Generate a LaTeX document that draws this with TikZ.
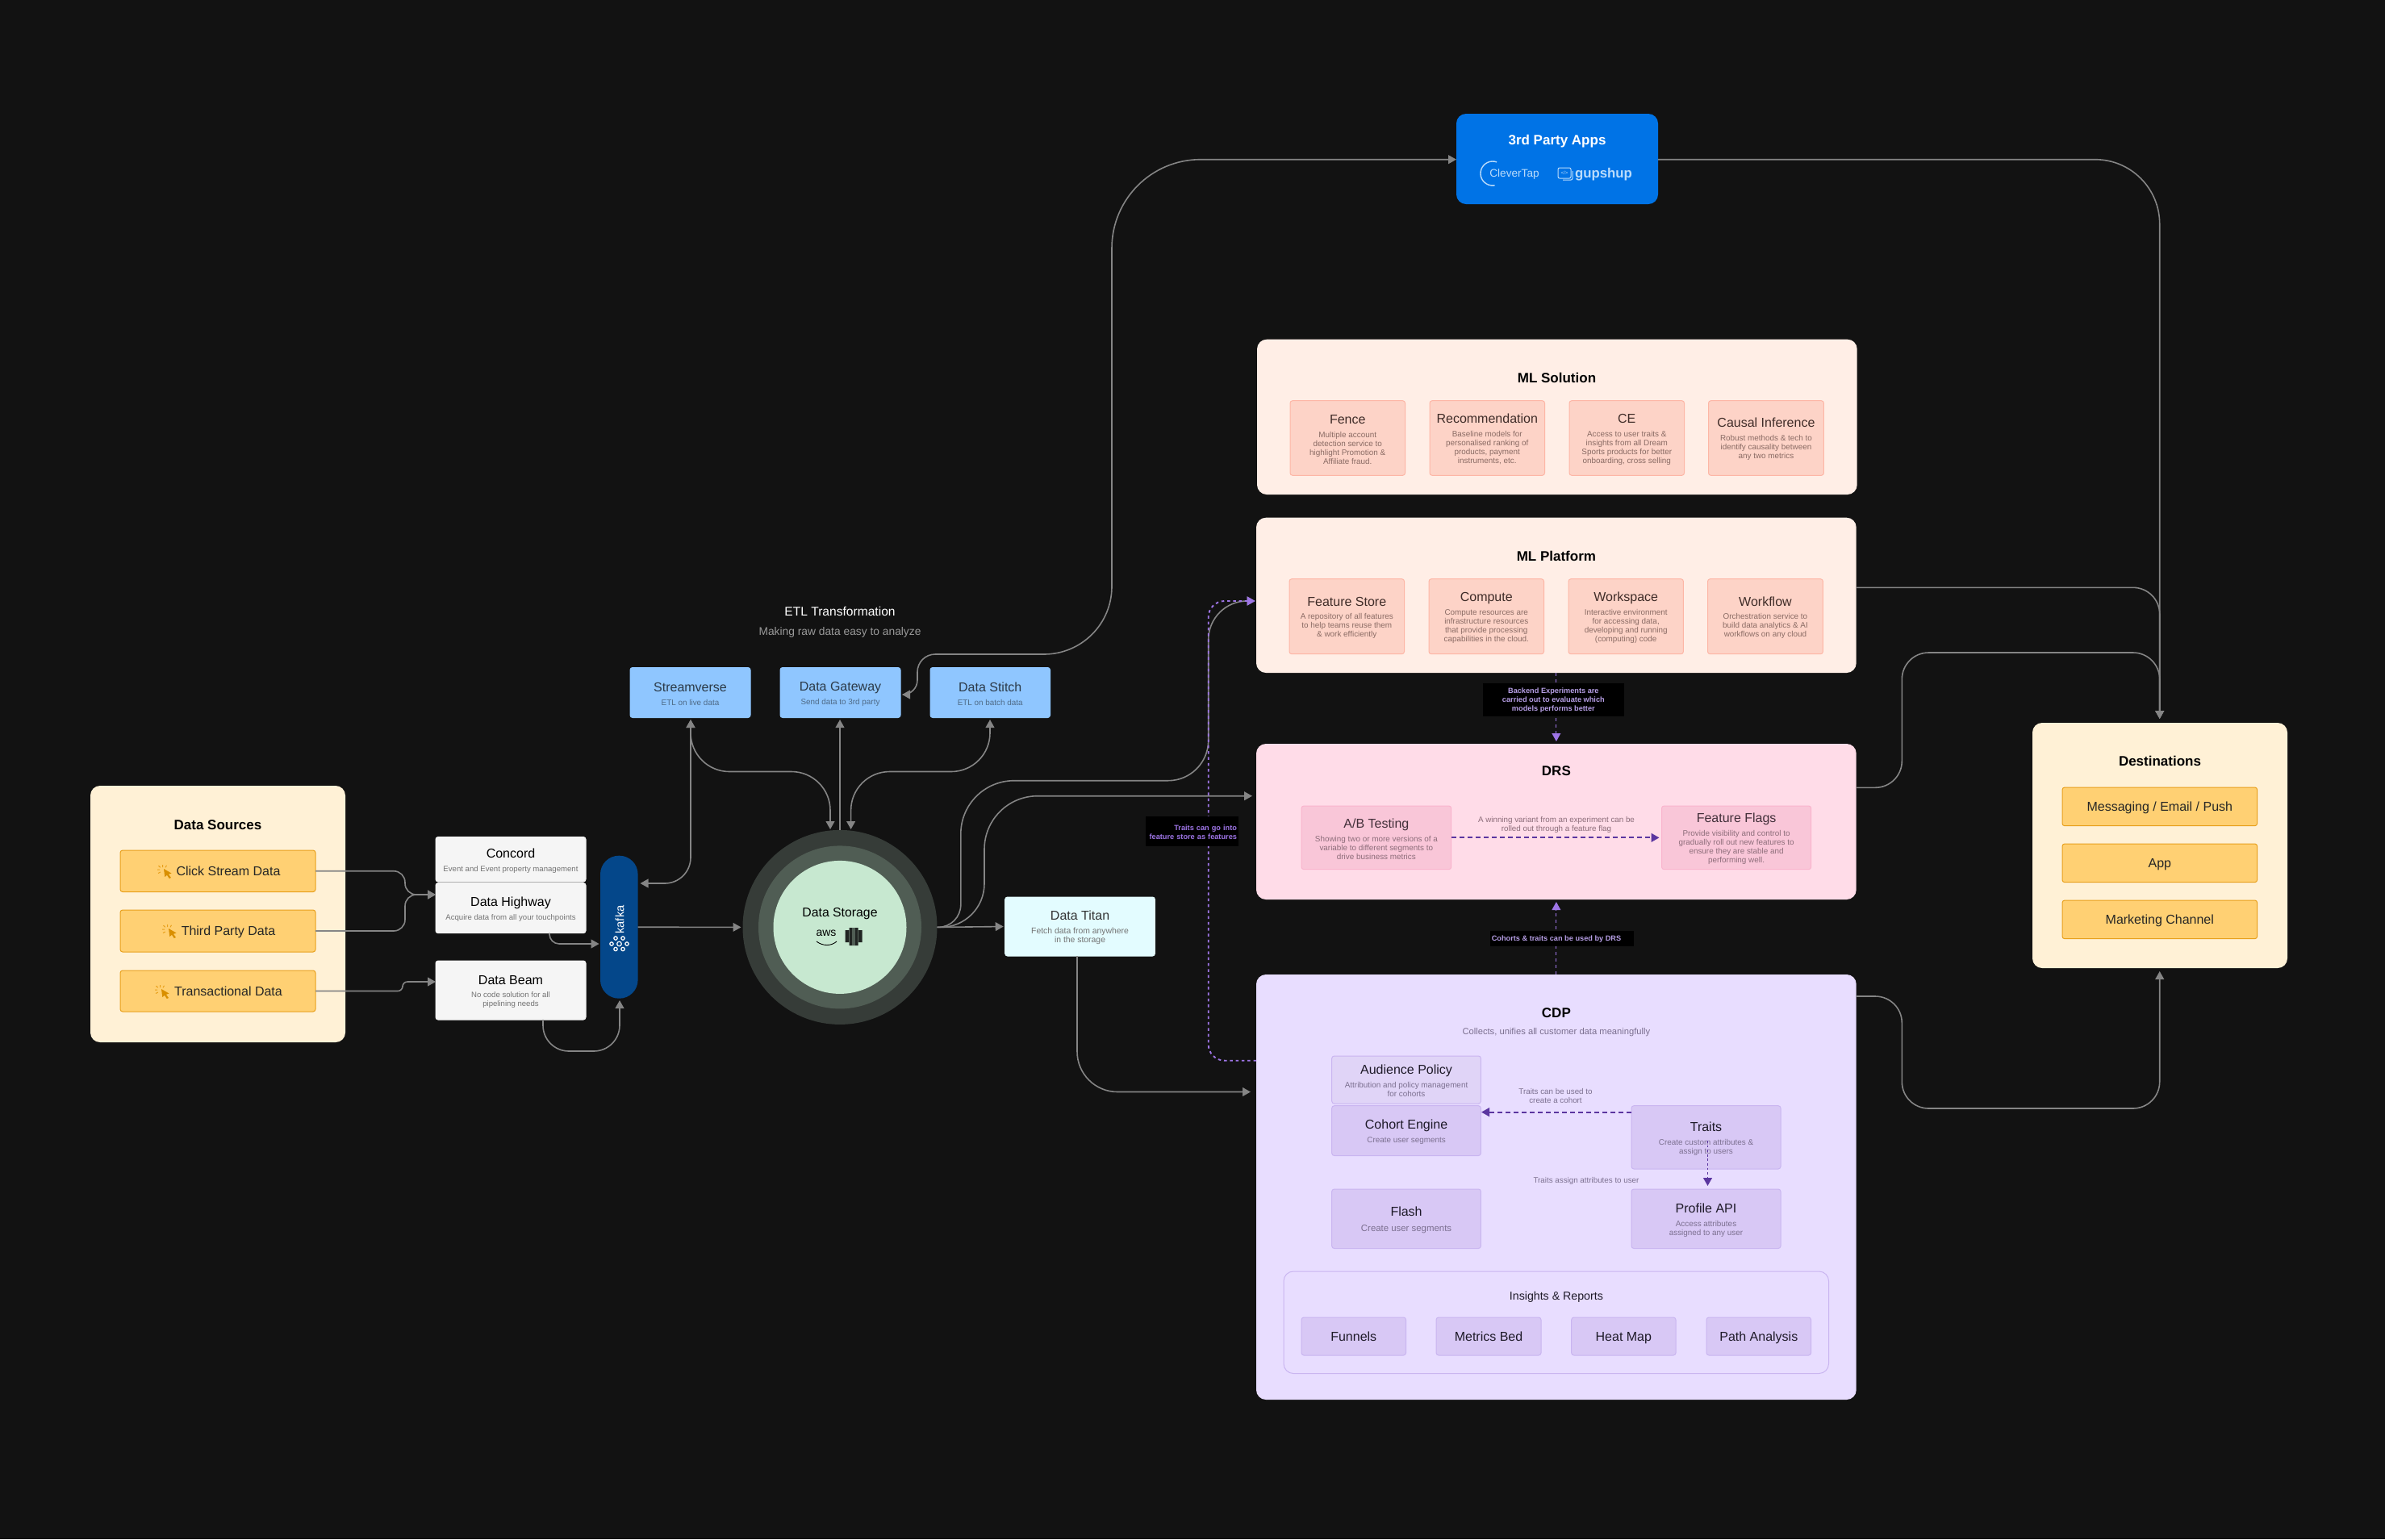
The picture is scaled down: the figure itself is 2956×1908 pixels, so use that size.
\documentclass[tikz,border=0pt]{standalone}
\usepackage{fontspec}
\setmainfont{Liberation Sans}
\usetikzlibrary{arrows.meta}
\definecolor{bg}{HTML}{121212}
\definecolor{wire}{HTML}{858585}
\definecolor{cream}{HTML}{FFF1D6}
\definecolor{amber}{HTML}{FFD073}
\definecolor{amberb}{HTML}{E8A01C}
\definecolor{clk}{HTML}{D98F00}
\definecolor{clkl}{HTML}{E8A01C}
\definecolor{graybox}{HTML}{F5F5F5}
\definecolor{kafkab}{HTML}{04478A}
\definecolor{sky}{HTML}{8FC6FF}
\definecolor{skyt}{HTML}{2C3A48}
\definecolor{skys}{HTML}{4F6B88}
\definecolor{titan}{HTML}{E3FCFF}
\definecolor{stoa}{HTML}{363C38}
\definecolor{stob}{HTML}{505D54}
\definecolor{stoc}{HTML}{C7E8D0}
\definecolor{blue3}{HTML}{0073E6}
\definecolor{logoc}{HTML}{BBDCFB}
\definecolor{etlsub}{HTML}{9A9A9A}
\definecolor{mlp}{HTML}{FFEEE6}
\definecolor{mlb}{HTML}{FDD3C7}
\definecolor{mlbd}{HTML}{FDB6A6}
\definecolor{mlt}{HTML}{3F2C28}
\definecolor{mls}{HTML}{8A6B64}
\definecolor{drsp}{HTML}{FFDCE8}
\definecolor{drsb}{HTML}{F9C6D8}
\definecolor{drsbd}{HTML}{F9B4CD}
\definecolor{drst}{HTML}{43303A}
\definecolor{drss}{HTML}{8D6D7A}
\definecolor{cdpp}{HTML}{E8DDFF}
\definecolor{cdpb}{HTML}{D8C8F5}
\definecolor{cdpa}{HTML}{E0D4F7}
\definecolor{cdpbd}{HTML}{C9B5F0}
\definecolor{cdpt}{HTML}{1E1A28}
\definecolor{cdps}{HTML}{7C7090}
\definecolor{pura}{HTML}{9E75E6}
\definecolor{purb}{HTML}{5B36A0}
\definecolor{purt}{HTML}{B79FE6}
\newcommand\ttlf{\fontsize{8}{10}\selectfont}
\newcommand\subf{\fontsize{4.95}{5.5}\selectfont}
\newcommand\hdf{\fontsize{8.5}{10}\selectfont\bfseries}
\newcommand\lblf{\fontsize{4.6}{5.5}\selectfont\bfseries}
\newcommand\bx[7]{\node[#2,anchor=north west,minimum width={(#5-#3)*0.5pt},minimum height={(#6-#4)*0.5pt}] (#1) at (#3,#4) {#7};}
\newcommand\card[8]{\bx{#1}{#2}{#3}{#4}{#5}{#6}{\rule{0pt}{7.4pt}{\ttlf\color{\tcol}#7}\\[2.9pt]#8}}
\tikzset{
  base/.style={inner sep=0pt,outer sep=0pt,align=center,execute at begin node={\lineskiplimit=-100pt\relax}},
  panel/.style={base,rounded corners=6pt,text=black},
  small/.style={base,rounded corners=1.5pt,line width=.5pt,draw,font=\subf},
  item/.style={small,fill=amber,draw=amberb,text=black!85,font=\ttlf,text height=5.7pt,text depth=0pt},
  grey/.style={small,fill=graybox,draw=graybox,text=black!55,font=\fontsize{4.8}{5.5}\selectfont,execute at begin node={\lineskiplimit=-100pt\def\tcol{black}}},
  etl/.style={small,fill=sky,draw=sky,text=skys,execute at begin node={\lineskiplimit=-100pt\def\tcol{skyt}}},
  tit/.style={small,fill=titan,draw=titan,text=black!55,font=\fontsize{5.2}{5.5}\selectfont,execute at begin node={\lineskiplimit=-100pt\def\tcol{black!80}}},
  mlc/.style={small,fill=mlb,draw=mlbd,text=mls,execute at begin node={\lineskiplimit=-100pt\def\tcol{mlt}}},
  drc/.style={small,fill=drsb,draw=drsbd,text=drss,execute at begin node={\lineskiplimit=-100pt\def\tcol{drst}}},
  cdc/.style={small,fill=cdpb,draw=cdpbd,text=cdps,execute at begin node={\lineskiplimit=-100pt\def\tcol{cdpt}}},
  cdl/.style={small,fill=cdpa,draw=cdpbd,text=cdps,execute at begin node={\lineskiplimit=-100pt\def\tcol{cdpt}}},
  cdw/.style={small,fill=cdpb,draw=cdpbd,text=cdpt,font=\ttlf,text height=5.7pt,text depth=0pt},
  head/.style={base,text=black,font=\hdf,text height=6.1pt,text depth=0pt},
  note/.style={base,text=cdps,font=\fontsize{4.9}{5.6}\selectfont,yshift=-.5pt},
  tag/.style={base,fill=black,text=purt,font=\lblf},
  tip/.style={-{Triangle[length=5pt,width=5.4pt]}},
  conn/.style={draw=wire,line width=.8pt,tip},
  both/.style={draw=wire,line width=.8pt,{Triangle[length=5pt,width=5.4pt]}-{Triangle[length=5pt,width=5.4pt]}},
  purl/.style={draw=pura,line width=.55pt,dash pattern=on 2.2pt off 1.8pt,-{Triangle[length=5pt,width=5.4pt,fill=pura]}},
  purd/.style={draw=pura,line width=.95pt,dash pattern=on 1.75pt off 1.9pt,-{Triangle[length=5pt,width=5.4pt,fill=pura]}},
  purk/.style={draw=purb,line width=.95pt,dash pattern=on 3pt off 2pt,-{Triangle[length=5pt,width=5.4pt,fill=purb]}},
  clickicon/.pic={
    \fill[clk] (8,5) -- (17.5,10.5) -- (14,11.8) -- (17,16) -- (14.8,17) -- (12,12.8) -- (9.3,15) -- cycle;
    \draw[clkl,line width=.5pt] (6.5,0)--(6.5,3) (0,6)--(3,6) (1.5,1.2)--(3.8,3.3) (11.5,.8)--(10,3.3) (1,10.5)--(3.8,9);
  }
}
\begin{document}
\begin{tikzpicture}[x=0.5pt,y=-0.5pt]
\useasboundingbox[fill=bg] (0,0) rectangle (2956,1908);
% --- Data sources
\bx{sources}{panel,fill=cream}{112}{974}{428}{1292}{}
\node[head] (sourcest) at (270,1022) {Data Sources};
\bx{click}{item}{149}{1054}{391}{1105.5}{\hspace*{13pt}Click Stream Data}
\bx{third}{item}{149}{1128}{391}{1180}{\hspace*{13pt}Third Party Data}
\bx{trans}{item}{149}{1203}{391}{1254}{\hspace*{13pt}Transactional Data}
\pic at (195,1072) {clickicon};
\pic at (201,1146) {clickicon};
\pic at (192,1221) {clickicon};
% --- ingest
\card{concord}{grey}{540}{1037.5}{726}{1093}{Concord}{Event and Event property management}
\card{highway}{grey}{540}{1094.5}{726}{1156.7}{Data Highway}{Acquire data from all your touchpoints}
\card{beam}{grey}{540}{1191}{726}{1264}{Data Beam}{No code solution for all\\pipelining needs}
\bx{kafka}{base,fill=kafkab,rounded corners=11.5pt}{744}{1060.7}{790.6}{1237.7}{}
\node[base,rotate=90,text=white,font=\fontsize{7.4}{8}\selectfont] (kafkat) at (768,1140) {kafka};
\foreach \a/\b in {758/1170,777/1170,763/1163,772/1163,763/1176.5,772/1176.5}{\draw[white,line width=.6pt] (\a,\b) circle[radius=2.2];}
\draw[white,line width=.6pt] (767.5,1170) circle[radius=2.8];
% --- ETL
\node[base,text=white,font=\fontsize{7.8}{9}\selectfont] (etlt) at (1041,757.5) {ETL Transformation};
\node[base,text=etlsub,font=\fontsize{6.9}{8}\selectfont,yshift=-.4pt] (etls) at (1041,783) {Making raw data easy to analyze};
\card{stream}{etl}{781}{827.5}{930}{889.5}{Streamverse}{ETL on live data}
\card{gateway}{etl}{967}{827.5}{1116}{889.5}{Data Gateway}{Send data to 3rd party}
\card{stitch}{etl}{1153}{827.5}{1301.5}{889.5}{Data Stitch}{ETL on batch data}
% --- storage
\node[base,circle,fill=stoa,minimum size=120.5pt] (store) at (1041,1149.4) {};
\node[base,circle,fill=stob,minimum size=101pt] (storeb) at (1041,1149.4) {};
\node[base,circle,fill=stoc,minimum size=82.5pt] (storec) at (1041,1149.4) {};
\node[base,text=black,font=\fontsize{7.9}{9}\selectfont,yshift=-.4pt] (storet) at (1041,1132) {Data Storage};
\node[base,text=black,font=\fontsize{7}{8}\selectfont] (awst) at (1024,1157) {aws};
\draw[black,line width=.45pt] (1012,1167) .. controls (1020,1173) and (1030,1173) .. (1037,1167);
\fill[stoa!60!black] (1047.5,1153) rectangle (1052,1168) (1052.5,1150) rectangle (1063.5,1172) (1064,1153) rectangle (1068.5,1168);
\fill[stob] (1056,1150) rectangle (1060,1172);
\card{titan}{tit}{1245.7}{1112}{1431.4}{1185}{Data Titan}{Fetch data from anywhere\\in the storage}
% --- 3rd party
\bx{apps}{panel,fill=blue3,rounded corners=6pt}{1805}{141}{2055}{253}{}
\node[head,text=white] (appst) at (1930,173) {3rd Party Apps};
\node[base,text=logoc,font=\fontsize{6.8}{8}\selectfont] (clever) at (1877,216) {CleverTap};
\draw[logoc,line width=.7pt] (1855.1,200.9) arc[start angle=-70,delta angle=-210,radius=15];
\node[base,text=logoc,font=\fontsize{8.4}{10}\bfseries\selectfont] (gup) at (1987.5,216) {gupshup};
\draw[logoc,line width=.5pt,rounded corners=1pt] (1931,208) rectangle (1947,221);
\draw[logoc,line width=.5pt,rounded corners=1pt] (1937,223) -- (1949,223) -- (1949,212);
\node[base,text=logoc,font=\fontsize{3}{3}\selectfont] (gupi) at (1939,214.5) {</>};
% --- ML solution
\bx{mlsol}{panel,fill=mlp}{1558}{420.7}{2301.7}{613}{}
\node[head] (mlst) at (1929.5,468) {ML Solution};
\card{fence}{mlc}{1599}{496.7}{1741.5}{589.3}{Fence}{Multiple account\\detection service to\\highlight Promotion \&\\Affiliate fraud.}
\card{recom}{mlc}{1772}{496.7}{1914.5}{589.3}{Recommendation}{Baseline models for\\personalised ranking of\\products, payment\\instruments, etc.}
\card{ce}{mlc}{1945}{496.7}{2087.5}{589.3}{CE}{Access to user traits \&\\insights from all Dream\\Sports products for better\\onboarding, cross selling}
\card{causal}{mlc}{2117.5}{496.7}{2260.4}{589.3}{Causal Inference}{Robust methods \& tech to\\identify causality between\\any two metrics}
% --- ML platform
\bx{plat}{panel,fill=mlp}{1557}{641.7}{2300.7}{834}{}
\node[head] (platt) at (1928.9,689) {ML Platform};
\card{fstore}{mlc}{1598}{717.7}{1740.5}{810.7}{Feature Store}{A repository of all features\\to help teams reuse them\\\& work efficiently}
\card{compute}{mlc}{1771}{717.7}{1913.5}{810.7}{Compute}{Compute resources are\\infrastructure resources\\that provide processing\\capabilities in the cloud.}
\card{space}{mlc}{1944}{717.7}{2086.4}{810.7}{Workspace}{Interactive environment\\for accessing data,\\developing and running\\(computing) code}
\card{flow}{mlc}{2116.5}{717.7}{2259.4}{810.7}{Workflow}{Orchestration service to\\build data analytics \& AI\\workflows on any cloud}
% --- DRS
\bx{drs}{panel,fill=drsp}{1557}{922}{2300.7}{1115}{}
\node[head] (drst) at (1928.9,955) {DRS};
\card{ab}{drc}{1613}{999}{1798.7}{1077.7}{A/B Testing}{Showing two or more versions of a\\variable to different segments to\\drive business metrics}
\card{ff}{drc}{2059.5}{999}{2244.7}{1077.7}{Feature Flags}{Provide visibility and control to\\gradually roll out new features to\\ensure they are stable and\\performing well.}
\node[note,text=drss] (abnote) at (1929,1021.5) {A winning variant from an experiment can be\\rolled out through a feature flag};
% --- CDP
\bx{cdp}{panel,fill=cdpp}{1557}{1208}{2300.7}{1735}{}
\node[head] (cdpttl) at (1928.9,1255) {CDP};
\node[base,text=cdps,font=\fontsize{5.6}{7}\selectfont] (cdpsub) at (1928.9,1279.6) {Collects, unifies all customer data meaningfully};
\card{aud}{cdl}{1650.7}{1309}{1835.4}{1368}{Audience Policy}{Attribution and policy management\\for cohorts}
\card{cohort}{cdc}{1650.7}{1370.7}{1835.4}{1432.5}{Cohort Engine}{Create user segments}
\card{traits}{cdc}{2022}{1370.7}{2207}{1449}{Traits}{Create custom attributes \&\\assign to users}
\card{flash}{cdc,font=\fontsize{5.7}{6.5}\selectfont}{1650.7}{1474}{1835.4}{1547.5}{Flash}{Create user segments}
\card{profile}{cdc}{2022}{1474}{2207}{1547.5}{Profile API}{Access attributes\\assigned to any user}
\node[note] (trn1) at (1928,1357.5) {Traits can be used to\\create a cohort};
\node[note] (trn2) at (1966,1463) {Traits assign attributes to user};
\bx{insights}{base,draw=cdpbd,line width=.5pt,rounded corners=6pt}{1591}{1576}{2266.5}{1702.5}{}
\node[base,text=cdpt,font=\fontsize{7.1}{8}\selectfont,yshift=-.5pt] (inst) at (1928.9,1606.8) {Insights \& Reports};
\bx{funnels}{cdw}{1613}{1633}{1742.5}{1680}{Funnels}
\bx{metrics}{cdw}{1780}{1633}{1910}{1680}{Metrics Bed}
\bx{heat}{cdw}{1947.7}{1633}{2077}{1680}{Heat Map}
\bx{path}{cdw}{2115}{1633}{2244.6}{1680}{Path Analysis}
% --- Destinations
\bx{dest}{panel,fill=cream}{2519}{896}{2835}{1200}{}
\node[head] (destt) at (2677,943) {Destinations};
\bx{msg}{item}{2556}{976}{2797.6}{1023.7}{Messaging / Email / Push}
\bx{appd}{item}{2556}{1046}{2797.6}{1093.7}{App}
\bx{mkt}{item}{2556}{1116}{2797.6}{1163.7}{Marketing Channel}
% --- connector ends
\coordinate (hwin) at (540,1109);
\coordinate (bmin) at (540,1217);
\coordinate (hwout) at (681,1156.7);
\coordinate (kin) at (742.6,1170);
\coordinate (bmout) at (673,1264);
\coordinate (kbot) at (768,1240);
\coordinate (ktop) at (793.5,1095);
\coordinate (sttop) at (856,892);
\coordinate (stl) at (1029,1028);
\coordinate (gtop) at (1041,892);
\coordinate (str) at (1054.6,1028);
\coordinate (sitop) at (1227,892);
\coordinate (gwin) at (1118,861);
\coordinate (appin) at (1805,197.7);
\coordinate (appout) at (2055,197.7);
\coordinate (mlin) at (1555.7,745);
\coordinate (drsin) at (1552,986.7);
\coordinate (ttout) at (1335,1185);
\coordinate (cdpin) at (1550,1353.5);
\coordinate (platout) at (2300.7,728.3);
\coordinate (drsout) at (2300.7,976.3);
\coordinate (cdpout) at (2300.7,1235);
\coordinate (cdpl) at (1557,1314.7);
\coordinate (dtop) at (2676.7,891);
\coordinate (dbot) at (2676.7,1204);
\coordinate (trl) at (2022,1378.6);
\coordinate (chr) at (1836,1378.6);
\coordinate (trm) at (2116.5,1414);
\coordinate (prt) at (2116.5,1470);
% --- grey connectors
\draw[conn,rounded corners=7pt] (click.east) -| (502,1109) -- (hwin);
\draw[conn,rounded corners=7pt] (third.east) -| (502,1109) -- (hwin);
\draw[conn,rounded corners=3pt] (trans.east) -| (499,1217) -- (bmin);
\draw[conn,rounded corners=6pt] (hwout) |- (kin);
\draw[conn,rounded corners=16pt] (bmout) -- (673,1303) -- (768,1303) -- (kbot);
\draw[both,rounded corners=16pt] (sttop) -- (856,1095) -- (ktop);
\draw[both,rounded corners=24pt] (sttop) -- (856,956.5) -- (1029,956.5) -- (stl);
\draw[conn] (store.north) -- (gtop);
\draw[both,rounded corners=24pt] (sitop) -- (1227,956.5) -- (1054.6,956.5) -- (str);
\draw[conn,shorten >=1pt] (kafka.east) -- (store.west);
\draw[conn,shorten >=1pt] (store.east) -- (titan.west);
\draw[draw=wire,line width=.8pt,tip] (store.east) [rounded corners=14pt] -- (1190.8,1149.4) [rounded corners=33pt] -- (1190.8,967.7) [rounded corners=25pt] -- (1497.7,967.7) [rounded corners=24pt] -- (1497.7,745) -- (mlin);
\draw[draw=wire,line width=.8pt,tip] (store.east) [rounded corners=27pt] -- (1220,1149.4) [rounded corners=33pt] -- (1220,986.7) -- (drsin);
\draw[conn,rounded corners=25pt] (ttout) |- (cdpin);
\draw[both] (gwin) [rounded corners=9pt] -- (1137,861) [rounded corners=11pt] -- (1137,811) [rounded corners=42pt] -- (1378,811) [rounded corners=55pt] -- (1378,197.7) -- (appin);
\draw[conn,rounded corners=40pt] (appout) -- (2676.7,197.7) -- (dtop);
\draw[conn,rounded corners=16.5pt] (platout) -- (2676.7,728.3) -- (dtop);
\draw[conn,rounded corners=16.5pt] (drsout) -- (2357.3,976.3) -- (2357.3,809) -- (2676.7,809) -- (dtop);
\draw[conn,rounded corners=16.5pt] (cdpout) -- (2357.3,1235) -- (2357.3,1374) -- (2676.7,1374) -- (dbot);
% --- purple connectors
\draw[purd,rounded corners=10pt] (cdpl) -- (1497.7,1314.7) -- (1497.7,745) -- (mlin);
\draw[purl,shorten >=1.5pt] (plat.south) -- (drs.north);
\draw[purl,shorten >=1.5pt] (cdp.north) -- (drs.south);
\draw[purk,shorten >=1.5pt] (ab.east) -- (ff.west);
\draw[purk] (trl) -- (chr);
\draw[purk,dash pattern=on 1.4pt off 1.4pt] (trm) -- (prt);
% --- tags over the lines
\bx{tagb}{tag}{1838}{847}{2012.7}{888}{\rule{0pt}{4.4pt}Backend Experiments are\\carried out to evaluate which\\models performs better}
\bx{tagc}{tag}{1847}{1154}{2025}{1172.7}{\rule{0pt}{4.4pt}\hspace*{-7pt}Cohorts \& traits can be used by DRS}
\bx{tagt}{tag,text=pura,align=right,text width=55.5pt}{1420}{1012}{1535}{1048.7}{\rule{0pt}{4.4pt}Traits can go into\\feature store as features}
\end{tikzpicture}
\end{document}
